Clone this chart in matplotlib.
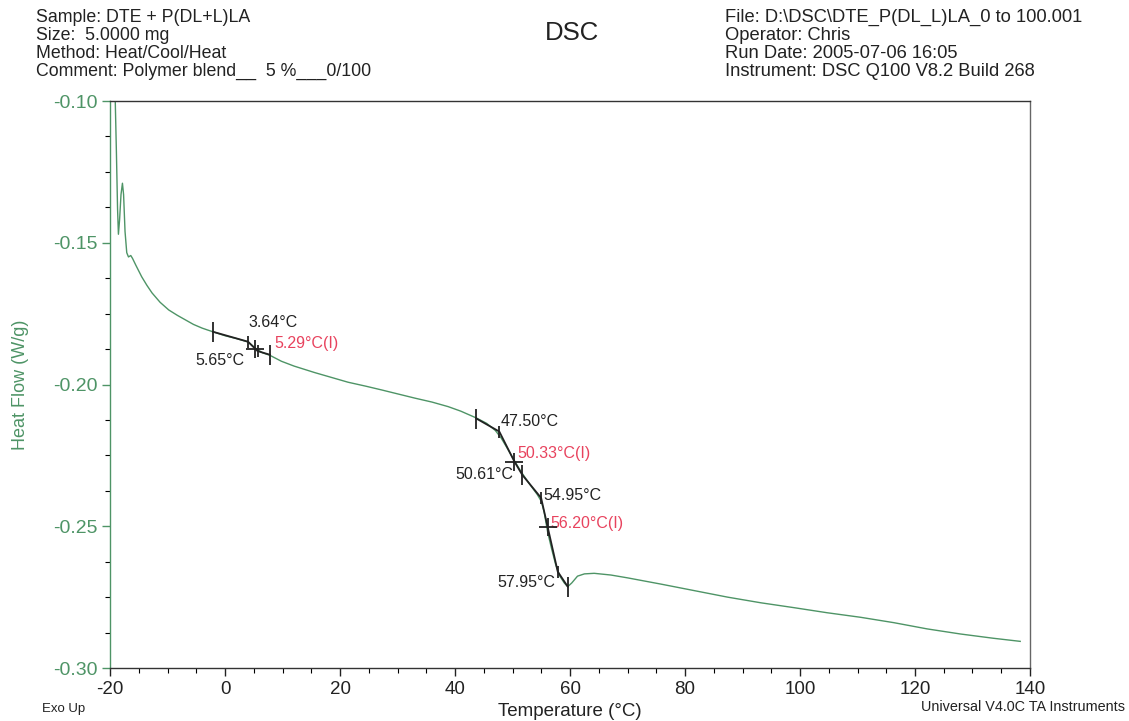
import matplotlib
matplotlib.use("Agg")
import matplotlib.pyplot as plt
from matplotlib.ticker import MultipleLocator, FormatStrFormatter

plt.rcParams['font.family'] = ['Liberation Sans', 'DejaVu Sans']
plt.rcParams['axes.unicode_minus'] = False

# ---- data ----
temp = [-19.35, -19.1, -18.9, -18.7, -18.55, -18.35, -18.1, -17.85, -17.65, -17.4,
        -17.1, -16.8, -16.4, -16.1, -15.5, -14.5, -13.6, -12.7, -11.3, -9.8,
        -8.3, -6.9, -5.5, -4.0, -3.0, -2.1, 0.0, 2.0, 4.0, 5.3,
        6.5, 7.8, 9.8, 12.0, 15.6, 18.5, 21.4, 24.5, 27.2, 30.0,
        33.0, 36.0, 38.8, 41.0, 43.7, 45.5, 47.0, 48.0, 49.0, 50.3,
        51.5, 53.0, 54.3, 55.0, 55.5, 56.1, 56.8, 57.5, 58.2, 59.0,
        59.6, 60.3, 61.3, 62.5, 64.2, 67.1, 70.0, 75.8, 81.6, 87.4,
        93.2, 98.9, 104.7, 110.5, 116.3, 122.1, 127.9, 133.6, 138.3]
heat_flow = [-0.08, -0.100, -0.118, -0.138, -0.147, -0.142, -0.133, -0.129, -0.133, -0.146,
             -0.1535, -0.155, -0.1545, -0.1555, -0.158, -0.162, -0.1650, -0.1677, -0.1710, -0.1737,
             -0.1756, -0.1772, -0.1788, -0.1801, -0.1808, -0.1814, -0.1828, -0.1838, -0.1850, -0.1872,
             -0.1888, -0.1897, -0.1918, -0.1935, -0.1958, -0.1975, -0.1992, -0.2006, -0.2019, -0.2033,
             -0.2048, -0.2062, -0.2078, -0.2094, -0.2118, -0.2137, -0.2162, -0.2188, -0.2222, -0.2268,
             -0.2308, -0.2352, -0.2388, -0.2412, -0.2450, -0.2520, -0.2580, -0.2635, -0.2675, -0.2700,
             -0.2713, -0.2700, -0.2676, -0.2668, -0.2666, -0.2672, -0.2682, -0.2704, -0.2727, -0.2750,
             -0.2770, -0.2787, -0.2805, -0.2821, -0.2840, -0.2862, -0.2880, -0.2895, -0.2906]

# tangent constructions of the glass transition analyses
tan1_t = [-2.1, 4.0, 5.65, 7.8]
tan1_h = [-0.1814, -0.1849, -0.1882, -0.1895]
tan2_t = [43.7, 47.7, 50.33, 51.7]
tan2_h = [-0.2120, -0.2166, -0.2272, -0.2319]
tan3_t = [51.7, 54.97, 57.86, 59.6]
tan3_h = [-0.2319, -0.2400, -0.2660, -0.2713]

limit_t = [-2.1, 7.8, 43.7, 51.7, 59.6]
limit_h = [-0.1814, -0.1895, -0.2120, -0.2319, -0.2713]
point_t = [4.0, 5.65, 47.7, 54.97, 57.86]
point_h = [-0.1849, -0.1882, -0.2166, -0.2400, -0.2660]
infl_t = [5.29, 50.33, 56.13]
infl_h = [-0.1876, -0.2272, -0.2504]

ann_labels = ["3.64°C", "5.29°C(I)", "5.65°C", "47.50°C", "50.33°C(I)",
              "50.61°C", "54.95°C", "56.20°C(I)", "57.95°C"]

x_ticks = [-20, 0, 20, 40, 60, 80, 100, 120, 140]
y_ticks = [-0.30, -0.25, -0.20, -0.15, -0.10]

# ---- figure ----
green = '#4e9466'
red = '#e8435e'
fig = plt.figure(figsize=(11.29, 7.21), dpi=100)
ax = fig.add_axes([0.0975, 0.0735, 0.8148, 0.7864])

ax.plot(temp, heat_flow, color=green, lw=1.0, zorder=2)
for tt, hh in [(tan1_t, tan1_h), (tan2_t, tan2_h), (tan3_t, tan3_h)]:
    ax.plot(tt, hh, color='#222222', lw=1.3, zorder=3)
ax.plot(limit_t, limit_h, ls='none', marker='|', ms=14, mew=1.3, color='#222222', zorder=4)
ax.plot(point_t, point_h, ls='none', marker='|', ms=9, mew=1.3, color='#222222', zorder=4)
ax.plot(infl_t, infl_h, ls='none', marker='+', ms=13, mew=1.3, color='#222222', zorder=4)

# annotation text (layout positions in data coordinates)
ann_pos = [(4.13, -0.1780, 'left', '#222222'),
           (8.6, -0.1857, 'left', red),
           (3.4, -0.1914, 'right', '#222222'),
           (47.9, -0.2132, 'left', '#222222'),
           (50.9, -0.2245, 'left', red),
           (50.1, -0.2316, 'right', '#222222'),
           (55.4, -0.2390, 'left', '#222222'),
           (56.5, -0.2492, 'left', red),
           (57.5, -0.2697, 'right', '#222222')]
for lab, (x, y, ha, c) in zip(ann_labels, ann_pos):
    ax.text(x, y, lab, ha=ha, va='center', color=c, fontsize=11.5)

ax.set_xlim(-20, 140)
ax.set_ylim(-0.30, -0.10)
ax.set_xticks(x_ticks)
ax.set_yticks(y_ticks)
ax.xaxis.set_minor_locator(MultipleLocator(5))
ax.yaxis.set_minor_locator(MultipleLocator(0.0125))
ax.yaxis.set_major_formatter(FormatStrFormatter('%.2f'))
ax.tick_params(axis='both', which='major', direction='out', length=6, width=1)
ax.tick_params(axis='both', which='minor', direction='out', length=3.5, width=0.8)
ax.tick_params(axis='x', labelsize=13.5, colors='#222222', pad=3)
ax.tick_params(axis='y', labelsize=14, colors=green, pad=3)

for s in ['top', 'bottom']:
    ax.spines[s].set_color('#333333')
ax.spines['right'].set_color('#666666')
ax.spines['left'].set_color(green)
for s in ax.spines.values():
    s.set_linewidth(1.0)

ax.set_xlabel('Temperature (°C)', fontsize=13.5, color='#222222', labelpad=4)
ax.set_ylabel('Heat Flow (W/g)', fontsize=13, color=green, labelpad=17)

# header
left_lines = ["Sample: DTE + P(DL+L)LA", "Size:  5.0000 mg", "Method: Heat/Cool/Heat",
              "Comment: Polymer blend__  5 %___0/100"]
right_lines = ["File: D:\\DSC\\DTE_P(DL_L)LA_0 to 100.001", "Operator: Chris",
               "Run Date: 2005-07-06 16:05", "Instrument: DSC Q100 V8.2 Build 268"]
for i, (l, r) in enumerate(zip(left_lines, right_lines)):
    yy = 1 - (17 + 18 * i) / 721
    fig.text(36 / 1129, yy, l, fontsize=12.8, va='center', ha='left', color='#222222')
    fig.text(725 / 1129, yy, r, fontsize=13.2, va='center', ha='left', color='#222222')
fig.text(572 / 1129, 1 - 33 / 721, 'DSC', fontsize=18.5, ha='center', va='center', color='#222222')
fig.text(42 / 1129, 1 - 709 / 721, 'Exo Up', fontsize=9.5, ha='left', va='center', color='#222222')
fig.text(1125 / 1129, 1 - 707 / 721, 'Universal V4.0C TA Instruments', fontsize=10.4,
         ha='right', va='center', color='#222222')

fig.savefig('out.png', dpi=100)
